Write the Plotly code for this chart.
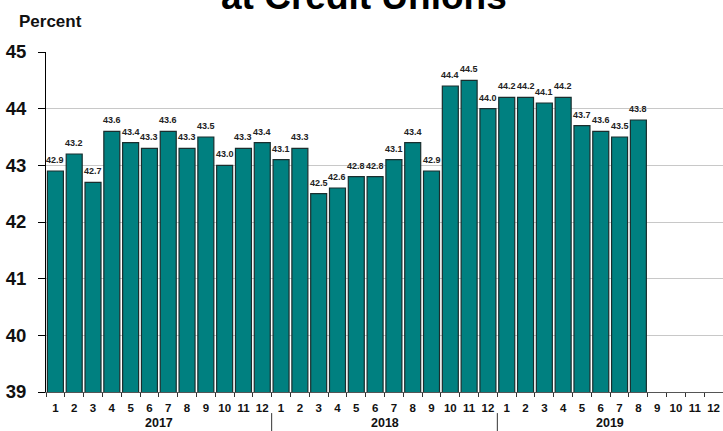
import plotly.graph_objects as go

years = ["2017", "2018", "2019"]
months = [str(m) for m in range(1, 13)]
values_2017 = [42.9, 43.2, 42.7, 43.6, 43.4, 43.3, 43.6, 43.3, 43.5, 43.0, 43.3, 43.4]
values_2018 = [43.1, 43.3, 42.5, 42.6, 42.8, 42.8, 43.1, 43.4, 42.9, 44.4, 44.5, 44.0]
values_2019 = [44.2, 44.2, 44.1, 44.2, 43.7, 43.6, 43.5, 43.8]
y_ticks = [39, 40, 41, 42, 43, 44, 45]
title_text = "at Credit Unions"
y_label = "Percent"

FONT = "Liberation Sans, Arial, sans-serif"
BAR = "#008080"

series = values_2017 + values_2018 + values_2019
n_slots = len(years) * len(months)
xs = list(range(len(series)))

fig = go.Figure()
fig.add_trace(go.Bar(
    x=xs, y=series,
    marker=dict(color=BAR, line=dict(color="#1a2e2e", width=1.2)),
    hoverinfo="skip",
))

# value labels
for x, v in zip(xs, series):
    fig.add_annotation(
        x=x, y=v, xref="x", yref="y", text=f"{v:.1f}", showarrow=False,
        yanchor="bottom", xanchor="center", yshift=4,
        font=dict(family=FONT, size=9, color="#222", weight="bold"),
    )

# year labels and dividers
for i, yr in enumerate(years):
    fig.add_annotation(
        x=i * len(months) + (len(months) - 1) / 2, y=-0.091, xref="x", yref="paper",
        text=yr, showarrow=False, yanchor="middle", xanchor="center",
        font=dict(family=FONT, size=12.5, color="#111", weight="bold"),
    )
    if i > 0:
        bx = i * len(months) - 0.5
        fig.add_shape(type="line", x0=bx, x1=bx, y0=-0.062, y1=-0.13,
                      xref="x", yref="paper", line=dict(color="#333", width=1))

# title (cut at top, as in the source) and y label
fig.add_annotation(
    x=0.47, y=1.164, xref="paper", yref="paper", text=title_text, showarrow=False,
    xanchor="center", yanchor="middle",
    font=dict(family=FONT, size=37, color="#000", weight="bold"),
)
fig.add_annotation(
    x=0.0066, y=1.091, xref="paper", yref="paper", text=y_label, showarrow=False,
    xanchor="center", yanchor="middle",
    font=dict(family=FONT, size=17, color="#111", weight="bold"),
)

tickvals = list(range(n_slots))
ticktext = months * len(years)
minor_vals = [i - 0.5 for i in range(n_slots + 1)]

fig.update_layout(
    width=723, height=431,
    margin=dict(l=46, r=0, t=52, b=39),
    paper_bgcolor="white", plot_bgcolor="white",
    showlegend=False,
    bargap=0.15,
    xaxis=dict(
        range=[-0.5, n_slots - 0.5],
        tickmode="array", tickvals=tickvals, ticktext=ticktext,
        ticks="", showgrid=False, zeroline=False,
        showline=True, linecolor="#555", linewidth=1,
        tickfont=dict(family=FONT, size=11.5, color="#111", weight="bold"),
        ticklabelstandoff=5,
        minor=dict(tickmode="array", tickvals=minor_vals, ticks="outside",
                   ticklen=4, tickcolor="#333", tickwidth=1, showgrid=False),
    ),
    yaxis=dict(
        range=[y_ticks[0], y_ticks[-1]],
        tickmode="array", tickvals=y_ticks,
        ticks="outside", ticklen=7, tickcolor="#000", tickwidth=1,
        showline=True, linecolor="#000", linewidth=1,
        showgrid=True, gridcolor="#c8c8c8", gridwidth=1,
        zeroline=False,
        tickfont=dict(family=FONT, size=18.5, color="#111", weight="bold"),
        ticklabelstandoff=8,
    ),
)

fig.write_html("out.html")
